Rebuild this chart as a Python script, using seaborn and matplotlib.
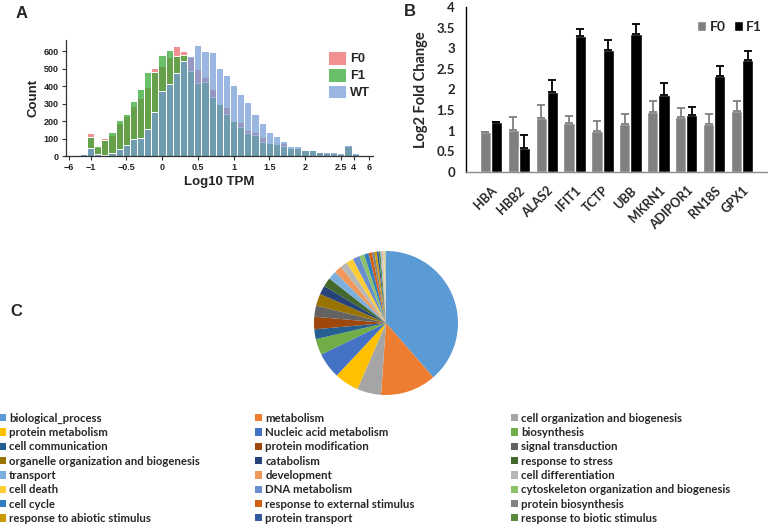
import numpy as np
import pandas as pd
import matplotlib
matplotlib.use("Agg")
import matplotlib.pyplot as plt
import seaborn as sns
from matplotlib.patches import Patch

# ---------------- Panel A data (histogram counts per Log10 TPM bin) ----------------
bin_centers = [-1.3, -1.2, -1.1, -1.0, -0.9, -0.8, -0.7, -0.6, -0.5, -0.4,
               -0.3, -0.2, -0.1, 0.0, 0.1, 0.2, 0.3, 0.4, 0.5, 0.6,
               0.7, 0.8, 0.9, 1.0, 1.1, 1.2, 1.3, 1.4, 1.5, 1.6,
               1.7, 1.8, 1.9, 2.0, 2.1, 2.2, 2.3, 2.4, 2.5, 2.6,
               2.7, 2.8, 2.9]
count_F0 = [3, 3, 18, 130, 52, 105, 120, 190, 228, 285,
            330, 395, 503, 515, 570, 632, 602, 570, 500, 452,
            385, 300, 282, 200, 195, 150, 135, 110, 80, 75,
            75, 45, 45, 35, 32, 22, 20, 20, 13, 62,
            13, 3, 2]
count_F1 = [3, 3, 15, 110, 57, 90, 138, 205, 240, 315,
            385, 480, 484, 578, 605, 572, 580, 490, 417, 425,
            340, 298, 243, 200, 167, 130, 120, 78, 75, 70,
            60, 45, 45, 33, 32, 22, 20, 20, 13, 60,
            13, 3, 2]
count_WT = [2, 2, 12, 45, 10, 8, 20, 40, 65, 97,
            105, 155, 250, 370, 412, 477, 542, 572, 636, 600,
            596, 507, 463, 405, 355, 310, 240, 192, 140, 115,
            85, 55, 55, 35, 34, 22, 21, 21, 15, 63,
            15, 5, 3]
hist_groups = ["F0", "F1", "WT"]
hist_xticks = [-1.3, -1.0, -0.5, 0.0, 0.5, 1.0, 1.5, 2.0, 2.5, 2.68, 2.9]
hist_xticklabels = ["\u22126", "\u22121", "\u22120.5", "0", "0.5", "1", "1.5", "2", "2.5", "4", "6"]

# ---------------- Panel B data ----------------
genes = ["HBA", "HBB2", "ALAS2", "IFIT1", "TCTP", "UBB", "MKRN1", "ADIPOR1", "RN18S", "GPX1"]
fc_F0 = [0.97, 1.02, 1.32, 1.18, 1.00, 1.17, 1.45, 1.33, 1.16, 1.47]
fc_F1 = [1.21, 0.58, 1.94, 3.30, 2.96, 3.35, 1.87, 1.37, 2.33, 2.71]
err_F0 = [0.00, 0.31, 0.30, 0.18, 0.23, 0.23, 0.28, 0.22, 0.24, 0.24]
err_F1 = [0.01, 0.32, 0.30, 0.17, 0.24, 0.23, 0.28, 0.21, 0.23, 0.23]

# ---------------- Panel C data (GO categories, % of genes) ----------------
go_terms = ["biological_process", "metabolism", "cell organization and biogenesis",
            "protein metabolism", "Nucleic acid metabolism", "biosynthesis",
            "cell communication", "protein modification", "signal transduction",
            "organelle organization and biogenesis", "catabolism", "response to stress",
            "transport", "development", "cell differentiation",
            "cell death", "DNA metabolism", "cytoskeleton organization and biogenesis",
            "cell cycle", "response to external stimulus", "protein biosynthesis",
            "response to abiotic stimulus", "protein transport", "response to biotic stimulus"]
go_pct = [38.6, 12.5, 5.4, 5.5, 5.8, 3.6,
          2.2, 2.8, 2.5, 2.7, 2.0, 2.0,
          1.9, 1.7, 1.6, 1.6, 1.6, 1.1,
          1.0, 0.75, 0.6, 0.5, 0.4, 0.4]
other_pct = [0.3, 0.25, 0.2, 0.2, 0.15, 0.15]
go_colors = ["#5B9BD5", "#ED7D31", "#A5A5A5", "#FFC000", "#4472C4", "#70AD47",
             "#255E91", "#9E480E", "#636363", "#997300", "#264478", "#43682B",
             "#7CAFDD", "#F1975A", "#B7B7B7", "#FFCD33", "#698ED0", "#8CC168",
             "#327DC2", "#D26012", "#848484", "#CC9A00", "#335AA1", "#5A8A39",
             "#9DC3E6", "#F4B183", "#C9C9C9", "#FFD966", "#8FAADC", "#A9D18E"]

# ---------------- Figure ----------------
sns.set_theme(style="ticks")
plt.rcParams["font.family"] = ["Liberation Sans", "DejaVu Sans"]
W, H = 768, 525
fig = plt.figure(figsize=(W / 100, H / 100), dpi=100)
fig.patch.set_facecolor("white")


def fx(px):
    return px / W


def fy(py):
    return 1 - py / H


# ---- Panel A ----
axA = fig.add_axes([fx(65.5), fy(156), fx(373 - 65.5), (156 - 40) / H])
df_hist = pd.DataFrame({
    "pos": bin_centers * 3,
    "count": count_F0 + count_F1 + count_WT,
    "group": ["F0"] * len(bin_centers) + ["F1"] * len(bin_centers) + ["WT"] * len(bin_centers),
})
pal_hist = {"F0": "#EB6565", "F1": "#30A830", "WT": "#739BD7"}
# seaborn layers hue levels in reverse order -> WT ends up on top
sns.histplot(data=df_hist, x="pos", weights="count", hue="group", hue_order=hist_groups[::-1],
             bins=len(bin_centers), binrange=(-1.35, 2.95), multiple="layer",
             palette=pal_hist, alpha=0.72, edgecolor="white", linewidth=0.7, ax=axA)
axA.set_xlim(-1.35, 2.95)
axA.set_ylim(0, 665)
axA.set_xticks(hist_xticks)
axA.set_xticklabels(hist_xticklabels)
axA.set_yticks([0, 100, 200, 300, 400, 500, 600])
for lab in axA.get_xticklabels() + axA.get_yticklabels():
    lab.set_fontweight("bold")
    lab.set_fontsize(6.5)
    lab.set_color("#222222")
axA.tick_params(length=3, width=0.8, pad=2, color="#333333")
axA.set_xlabel("Log10 TPM", fontsize=9.5, fontweight="bold", labelpad=3, color="#222222")
axA.set_ylabel("Count", fontsize=9.5, fontweight="bold", labelpad=3, color="#222222")
for s in ["top", "right"]:
    axA.spines[s].set_visible(False)
for s in ["left", "bottom"]:
    axA.spines[s].set_color("#333333")
    axA.spines[s].set_linewidth(0.9)
oldleg = axA.get_legend()
hmap = {t.get_text(): h for t, h in zip(oldleg.get_texts(), oldleg.legend_handles)}
oldleg.remove()
axA.legend([hmap[g] for g in hist_groups], hist_groups, loc="upper left",
           bbox_to_anchor=(fx(322), fy(45)),
           bbox_transform=fig.transFigure, frameon=False, borderpad=0,
           handlelength=1.35, handleheight=1.2, labelspacing=0.22, handletextpad=0.35,
           prop={"weight": "bold", "size": 9.3})

# ---- Panel B ----
axB = fig.add_axes([fx(466), fy(172), fx(767 - 466), (172 - 7) / H])
df_b = pd.DataFrame({
    "gene": genes * 2,
    "value": fc_F0 + fc_F1,
    "group": ["F0"] * len(genes) + ["F1"] * len(genes),
})
pal_b = {"F0": "#808080", "F1": "#000000"}
sns.barplot(data=df_b, x="gene", y="value", hue="group", hue_order=["F0", "F1"],
            palette=pal_b, saturation=1, errorbar=None, width=0.8, ax=axB)
for cont, errs, col in zip(axB.containers, [err_F0, err_F1], ["#808080", "#000000"]):
    xs = [p.get_x() + p.get_width() / 2 for p in cont]
    ys = [p.get_height() for p in cont]
    axB.errorbar(xs, ys, yerr=[np.zeros(len(errs)), errs], fmt="none", ecolor=col,
                 elinewidth=1.3, capsize=3, capthick=1.3)
axB.set_ylim(0, 4)
yt = [0, 0.5, 1, 1.5, 2, 2.5, 3, 3.5, 4]
axB.set_yticks(yt)
axB.set_yticklabels(["0", "0.5", "1", "1.5", "2", "2.5", "3", "3.5", "4"],
                    fontfamily="Lato", fontweight="bold", fontsize=9.5)
axB.set_xticks(range(len(genes)))
axB.set_xticklabels(genes, rotation=45, ha="right", rotation_mode="anchor",
                    fontfamily="Lato", fontweight="bold", fontsize=9)
axB.tick_params(axis="y", length=0, pad=8)
axB.tick_params(axis="x", length=0, pad=9)
axB.set_xlabel("")
axB.set_ylabel("Log2 Fold Change", fontfamily="Lato", fontweight="bold", fontsize=10.5, labelpad=6)
for s in ["top", "right"]:
    axB.spines[s].set_visible(False)
axB.spines["left"].set_color("#000000")
axB.spines["left"].set_linewidth(1.0)
axB.spines["bottom"].set_color("#8c8c8c")
axB.spines["bottom"].set_linewidth(1.0)
axB.legend(loc="upper left", bbox_to_anchor=(fx(690), fy(14)), bbox_transform=fig.transFigure,
           ncol=2, frameon=False, borderpad=0, handlelength=0.65, handleheight=0.65,
           handletextpad=0.25, columnspacing=0.6,
           prop={"family": "Lato", "weight": "bold", "size": 10})

# ---- Panel C ----
axC = fig.add_axes([fx(386 - 75), fy(323 + 75), fx(150), 150 / H])
pie_vals = go_pct + other_pct
pie_cols = go_colors[:len(pie_vals)]
axC.pie(pie_vals, colors=pie_cols, startangle=90, counterclock=False, radius=1.2,
        wedgeprops={"linewidth": 0})
axC.set_aspect("equal")

handles_c = [Patch(facecolor=c, edgecolor="none") for c in go_colors[:len(go_terms)]]
col_x = [-7, 249, 505]
for c in range(3):
    idx = list(range(c, len(go_terms), 3))
    fig.legend([handles_c[i] for i in idx], [go_terms[i] for i in idx],
               loc="upper left", bbox_to_anchor=(fx(col_x[c]), fy(407)),
               frameon=False, borderpad=0, handlelength=0.62, handleheight=0.62,
               handletextpad=0.3, labelspacing=0.29,
               prop={"family": "Lato", "weight": "bold", "size": 8.2})

# ---- Panel letters ----
fig.text(fx(16), fy(14), "A", fontsize=12, fontweight="bold", va="center")
fig.text(fx(404), fy(12), "B", fontsize=12, fontweight="bold", va="center")
fig.text(fx(10), fy(312), "C", fontsize=12, fontweight="bold", va="center")

fig.savefig("out.png", dpi=100, facecolor="white")
